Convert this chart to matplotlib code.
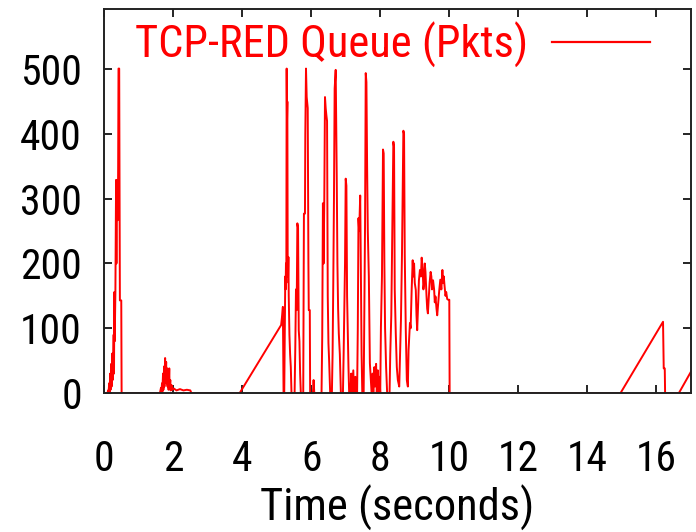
import matplotlib
matplotlib.use("Agg")
import matplotlib.pyplot as plt
from matplotlib import font_manager

_names = {f.name for f in font_manager.fontManager.ttflist}
_prefs = ["Liberation Sans Narrow", "Nimbus Sans Narrow", "Arial Narrow", "Helvetica Narrow",
          "Roboto Condensed", "Archivo Narrow", "PT Sans Narrow"]
FAM = next((n for n in _prefs if n in _names), None)
if FAM is None:
    FAM = "Liberation Sans"
    SCALE = 0.84
else:
    SCALE = 1.0
plt.rcParams["font.family"] = [FAM, "DejaVu Sans"]

# ---- data ----
time_s = [
    0.00, 0.10, 0.12, 0.13, 0.15, 0.16, 0.18, 0.19, 0.21, 0.22, 0.24, 0.25, 0.27, 0.28, 0.29,
    0.30, 0.31, 0.33, 0.34, 0.35, 0.36, 0.37, 0.38, 0.40, 0.41, 0.42, 0.44, 0.45, 0.46, 0.50,
    0.51, 0.53,
    1.62, 1.65, 1.66, 1.68, 1.69, 1.71, 1.72, 1.74, 1.75, 1.77, 1.78, 1.80, 1.81, 1.83, 1.84,
    1.86, 1.87, 1.89, 1.90, 1.92, 1.93, 1.96, 1.98, 2.02, 2.10, 2.20, 2.30, 2.40, 2.50, 2.53,
    3.93, 5.13, 5.16, 5.18, 5.20,
    5.22, 5.24, 5.25, 5.26, 5.27, 5.28, 5.29, 5.30, 5.31, 5.32, 5.33, 5.34, 5.35, 5.37, 5.39,
    5.41, 5.43, 5.52,
    5.54, 5.56, 5.58, 5.60, 5.62, 5.64, 5.66, 5.68, 5.70, 5.77,
    5.78, 5.79, 5.82, 5.83, 5.85, 5.87, 5.90, 5.92, 5.93, 5.96, 5.97, 6.05, 6.07, 6.09, 6.30,
    6.32, 6.34, 6.36, 6.38, 6.40, 6.42, 6.44, 6.46, 6.48, 6.50, 6.52, 6.55, 6.60,
    6.62, 6.64, 6.66, 6.68, 6.71, 6.74, 6.76, 6.78, 6.80, 6.83, 6.86, 6.92,
    6.94, 6.96, 6.98, 7.00, 7.02, 7.04, 7.06, 7.08, 7.10, 7.14, 7.16, 7.18, 7.22, 7.24, 7.28,
    7.30, 7.33,
    7.35, 7.37, 7.39, 7.42, 7.44, 7.46, 7.48, 7.52,
    7.54, 7.56, 7.58, 7.60, 7.62, 7.64, 7.67, 7.70, 7.73, 7.75, 7.78, 7.80, 7.83, 7.85, 7.88,
    7.90, 7.93, 7.95, 7.98, 8.00,
    8.02, 8.05, 8.08, 8.10, 8.12, 8.14, 8.17, 8.20, 8.27,
    8.29, 8.32, 8.35, 8.38, 8.40, 8.42, 8.45, 8.48, 8.51, 8.55,
    8.57, 8.60, 8.63, 8.67, 8.69, 8.71, 8.74, 8.77, 8.80,
    8.82, 8.86, 8.88, 8.91, 8.94, 8.96, 8.98, 9.00, 9.03, 9.05, 9.07, 9.10, 9.12, 9.15, 9.18,
    9.20, 9.23, 9.25, 9.27, 9.29, 9.31, 9.34, 9.36, 9.38, 9.41, 9.43, 9.46, 9.48, 9.50, 9.53,
    9.56, 9.58, 9.60, 9.63, 9.65, 9.68, 9.71, 9.74, 9.77, 9.80, 9.82, 9.84, 9.86, 9.89, 9.91,
    9.94, 9.97, 10.00, 10.01,
    14.96, 16.19, 16.21, 16.24, 16.25, 16.65, 16.98, 17.00,
]
queue_pkts = [
    0, 0, 4, 0, 15, 0, 30, 5, 45, 10, 61, 20, 61, 90, 30,
    156, 80, 156, 250, 329, 200, 329, 267, 267, 350, 501, 501, 300, 143, 143,
    0, 0,
    0, 8, 0, 15, 2, 30, 5, 41, 10, 54, 20, 48, 15, 38, 10,
    28, 5, 38, 8, 20, 4, 12, 5, 7, 4, 6, 4, 5, 4, 0,
    0, 105, 120, 133, 0,
    0, 130, 180, 160, 200, 170, 501, 420, 450, 200, 180, 210, 150, 90, 60,
    40, 0, 0,
    70, 160, 128, 262, 255, 97, 80, 30, 0, 0,
    150, 277, 277, 400, 501, 457, 440, 200, 128, 128, 0, 0, 20, 0, 0,
    87, 293, 200, 300, 457, 440, 429, 420, 150, 77, 50, 0, 0,
    60, 170, 300, 470, 499, 336, 200, 130, 92, 60, 0, 0,
    60, 130, 200, 331, 320, 150, 92, 40, 0, 0, 30, 0, 35, 0, 25,
    0, 0,
    100, 270, 250, 305, 180, 60, 0, 0,
    120, 259, 494, 480, 350, 250, 180, 46, 20, 0, 30, 0, 40, 10, 45,
    0, 35, 0, 25, 0,
    102, 180, 376, 370, 200, 100, 40, 0, 0,
    60, 120, 252, 388, 380, 160, 92, 40, 20, 10,
    50, 113, 215, 405, 400, 213, 97, 20, 10,
    66, 108, 100, 159, 205, 180, 200, 170, 159, 120, 97, 140, 174, 190, 180,
    209, 190, 160, 169, 200, 187, 150, 130, 123, 150, 170, 187, 180, 160, 174,
    160, 140, 149, 130, 120, 140, 159, 175, 160, 190, 170, 180, 167, 150, 156,
    145, 144, 144, 0,
    0, 110, 38, 38, 0, 0, 31, 33,
]
x_ticks = [0, 2, 4, 6, 8, 10, 12, 14, 16]
y_ticks = [0, 100, 200, 300, 400, 500]
series_label = "TCP-RED Queue (Pkts)"
x_label = "Time (seconds)"

# ---- figure ----
W, H = 696, 532
fig = plt.figure(figsize=(W / 100, H / 100), dpi=100)
ax = fig.add_axes([104 / W, 1 - 393 / H, (691 - 104) / W, (393 - 9) / H])

ax.plot(time_s, queue_pkts, color="#ff0000", lw=1.4, label=series_label)

ax.set_xlim(0, 17)
ax.set_ylim(0, 593)
ax.set_xticks(x_ticks)
ax.set_yticks(y_ticks)
ax.tick_params(direction="in", length=6, width=1.2, top=True, right=True,
               labelsize=30 * SCALE, colors="black")
ax.tick_params(axis="x", pad=33)
ax.tick_params(axis="y", pad=16)
for s in ax.spines.values():
    s.set_linewidth(1.4)
    s.set_color("#222222")

ax.set_xlabel(x_label, fontsize=32 * SCALE, labelpad=4)

leg = ax.legend(loc="center right", bbox_to_anchor=(650 / W, 1 - 45 / H),
                bbox_transform=fig.transFigure, frameon=False, markerfirst=False,
                fontsize=32 * SCALE, handlelength=2.2 / SCALE, handletextpad=0.55 / SCALE,
                borderpad=0, borderaxespad=0, labelcolor="#ff0000")
for line in leg.get_lines():
    line.set_linewidth(1.6)

fig.savefig("out.png", dpi=100)
